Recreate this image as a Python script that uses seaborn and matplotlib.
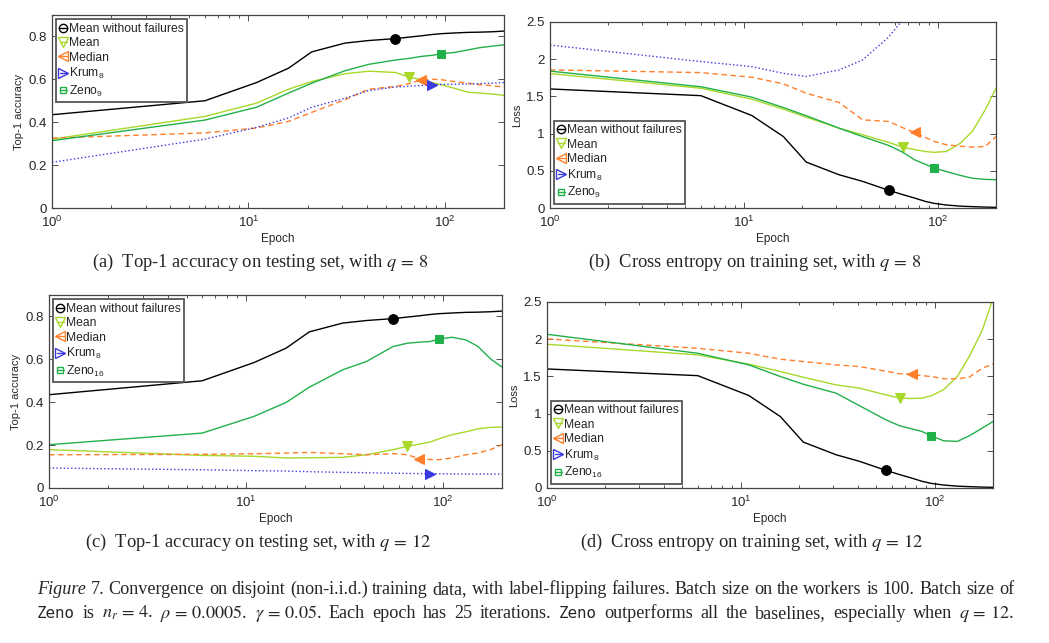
import matplotlib
matplotlib.use("Agg")
import matplotlib.pyplot as plt
from matplotlib.lines import Line2D
import seaborn as sns

# epochs where the curves were sampled (every 5 epochs, thinned out on the log axis)
epochs = [1, 6, 11, 16, 21, 31, 41, 56, 66, 76, 86, 96, 111, 131, 151, 176, 200]

# --- top-1 accuracy on testing set ---
acc_clean = [0.435, 0.50, 0.585, 0.652, 0.728, 0.769, 0.781, 0.79, 0.797, 0.803,
             0.809, 0.813, 0.816, 0.819, 0.82, 0.822, 0.825]
acc_mean_q8 = [0.321, 0.427, 0.489, 0.554, 0.59, 0.626, 0.638, 0.632, 0.61, 0.598,
               0.585, 0.575, 0.559, 0.54, 0.536, 0.531, 0.525]
acc_median_q8 = [0.326, 0.35, 0.373, 0.404, 0.446, 0.505, 0.554, 0.567, 0.58, 0.598,
                 0.6, 0.598, 0.59, 0.582, 0.575, 0.57, 0.564]
acc_krum_q8 = [0.213, 0.321, 0.376, 0.42, 0.47, 0.512, 0.548, 0.564, 0.568, 0.571,
               0.575, 0.576, 0.577, 0.578, 0.58, 0.582, 0.585]
acc_zeno_q8 = [0.314, 0.41, 0.47, 0.536, 0.582, 0.64, 0.67, 0.69, 0.698, 0.707,
               0.712, 0.719, 0.725, 0.737, 0.748, 0.755, 0.761]

acc_mean_q12 = [0.179, 0.152, 0.148, 0.14, 0.141, 0.143, 0.155, 0.179, 0.194, 0.205,
                0.214, 0.23, 0.248, 0.262, 0.276, 0.283, 0.284]
acc_median_q12 = [0.155, 0.157, 0.16, 0.163, 0.166, 0.16, 0.155, 0.16, 0.155, 0.137,
                  0.133, 0.132, 0.14, 0.155, 0.163, 0.18, 0.202]
acc_krum_q12 = [0.093, 0.085, 0.081, 0.079, 0.076, 0.073, 0.071, 0.069, 0.068, 0.067,
                0.067, 0.066, 0.066, 0.065, 0.065, 0.065, 0.065]
acc_zeno_q12 = [0.202, 0.256, 0.334, 0.399, 0.47, 0.551, 0.59, 0.66, 0.675, 0.68,
                0.683, 0.694, 0.703, 0.691, 0.66, 0.6, 0.564]

# --- cross entropy on training set ---
loss_clean = [1.60, 1.51, 1.243, 0.96, 0.617, 0.447, 0.358, 0.237, 0.18, 0.134,
              0.09, 0.062, 0.04, 0.025, 0.018, 0.012, 0.009]
loss_mean_q8 = [1.807, 1.61, 1.462, 1.328, 1.221, 1.073, 0.984, 0.881, 0.818, 0.785,
                0.76, 0.748, 0.76, 0.872, 1.03, 1.32, 1.61]
loss_median_q8 = [1.856, 1.82, 1.758, 1.668, 1.543, 1.418, 1.185, 1.163, 1.08, 1.015,
                  0.95, 0.894, 0.85, 0.83, 0.818, 0.827, 0.96]
loss_krum_q8 = [2.19, 1.968, 1.90, 1.81, 1.767, 1.856, 1.99, 2.30, 2.53, 2.9,
                3.1, 3.3, 3.5, 3.7, 3.9, 4.0, 4.1]
loss_zeno_q8 = [1.84, 1.63, 1.49, 1.35, 1.24, 1.073, 0.96, 0.84, 0.75, 0.648,
                0.59, 0.537, 0.49, 0.438, 0.4, 0.385, 0.38]

loss_mean_q12 = [1.932, 1.789, 1.664, 1.565, 1.489, 1.386, 1.342, 1.252, 1.208, 1.203,
                 1.208, 1.24, 1.32, 1.5, 1.77, 2.12, 2.55]
loss_median_q12 = [2.004, 1.878, 1.811, 1.731, 1.70, 1.655, 1.632, 1.57, 1.535, 1.53,
                   1.51, 1.498, 1.47, 1.467, 1.49, 1.61, 1.668]
loss_zeno_q12 = [2.066, 1.811, 1.655, 1.498, 1.395, 1.275, 1.105, 0.917, 0.836, 0.796,
                 0.76, 0.702, 0.635, 0.626, 0.702, 0.805, 0.894]

# epoch where each method shows its marker
mark_at = {"clean": 56, "mean": 66, "median": 76, "krum": 86, "zeno": 96}

styles = {
    "clean": dict(color="black", ls="-", marker="o", ms=7),
    "mean": dict(color="#a8d82a", ls="-", marker="v", ms=7.5),
    "median": dict(color="#ff7f2a", ls=(0, (4, 2.5)), marker="<", ms=7.5),
    "krum": dict(color="#3a3ae0", ls=":", marker=">", ms=7.5),
    "zeno": dict(color="#22b04a", ls="-", marker="s", ms=6),
}

sns.set_theme(style="ticks")
plt.rcParams["font.family"] = ["Liberation Sans", "DejaVu Sans"]
plt.rcParams["mathtext.fontset"] = "custom"
plt.rcParams["mathtext.rm"] = "Liberation Sans"
plt.rcParams["mathtext.it"] = "Liberation Sans:italic"

W, H = 1049, 643
fig = plt.figure(figsize=(W / 100, H / 100), dpi=100)


def px_axes(left, top, right, bottom):
    return fig.add_axes([left / W, 1 - bottom / H, (right - left) / W, (bottom - top) / H])


def draw_curve(ax, y, key):
    st = styles[key]
    idx = epochs.index(mark_at[key])
    sns.lineplot(x=epochs, y=y, ax=ax, color=st["color"], linestyle=st["ls"],
                 linewidth=1.0, marker=st["marker"], markersize=st["ms"],
                 markevery=[idx], markerfacecolor=st["color"],
                 markeredgecolor=st["color"], errorbar=None, legend=False)


def style_axes(ax, ylabel, ylim, yticks, yticklabels):
    ax.set_xscale("log")
    ax.set_xlim(1, 200)
    ax.set_ylim(*ylim)
    ax.set_yticks(yticks)
    ax.set_yticklabels(yticklabels)
    ax.set_xlabel("Epoch", fontsize=8.5, labelpad=2)
    ax.set_ylabel(ylabel, fontsize=8, labelpad=3)
    ax.tick_params(which="both", direction="in", top=True, right=True,
                   labelsize=9.5, width=0.6, color="#333333")
    ax.tick_params(axis="x", pad=5)
    ax.tick_params(axis="y", pad=4)
    ax.tick_params(which="major", length=4)
    ax.tick_params(which="minor", length=2)
    for sp in ax.spines.values():
        sp.set_linewidth(0.9)
        sp.set_color("#444444")


def add_legend(ax, zeno_label, loc):
    labels = ["Mean without failures", "Mean", "Median", r"Krum$_8$", zeno_label]
    handles = []
    for key in ["clean", "mean", "median", "krum", "zeno"]:
        st = styles[key]
        handles.append(Line2D([0], [0], color=st["color"], ls="-", lw=1.0,
                              marker=st["marker"], markersize=st["ms"] - 1,
                              markerfacecolor="none", markeredgecolor=st["color"],
                              markeredgewidth=1.0))
    leg = ax.legend(handles, labels, loc=loc, fontsize=8.7, handlelength=0.6,
                    handletextpad=0.15, labelspacing=0.2, borderpad=0.3,
                    borderaxespad=0.35, fancybox=False, framealpha=1)
    leg.get_frame().set_edgecolor("#555555")
    leg.get_frame().set_linewidth(1.3)


acc_ticks = [0, 0.2, 0.4, 0.6, 0.8]
acc_ticklabels = ["0", "0.2", "0.4", "0.6", "0.8"]
loss_ticks = [0, 0.5, 1, 1.5, 2, 2.5]
loss_ticklabels = ["0", "0.5", "1", "1.5", "2", "2.5"]

# (a)
ax_a = px_axes(52, 15, 504, 208)
draw_curve(ax_a, acc_clean, "clean")
draw_curve(ax_a, acc_mean_q8, "mean")
draw_curve(ax_a, acc_median_q8, "median")
draw_curve(ax_a, acc_krum_q8, "krum")
draw_curve(ax_a, acc_zeno_q8, "zeno")
style_axes(ax_a, "Top-1 accuracy", (0, 0.9), acc_ticks, acc_ticklabels)
add_legend(ax_a, r"Zeno$_9$", "upper left")

# (b)
ax_b = px_axes(550, 22, 996, 208)
draw_curve(ax_b, loss_clean, "clean")
draw_curve(ax_b, loss_mean_q8, "mean")
draw_curve(ax_b, loss_median_q8, "median")
draw_curve(ax_b, loss_krum_q8, "krum")
draw_curve(ax_b, loss_zeno_q8, "zeno")
style_axes(ax_b, "Loss", (0, 2.5), loss_ticks, loss_ticklabels)
add_legend(ax_b, r"Zeno$_9$", "lower left")

# (c)
ax_c = px_axes(49, 295, 502, 488)
draw_curve(ax_c, acc_clean, "clean")
draw_curve(ax_c, acc_mean_q12, "mean")
draw_curve(ax_c, acc_median_q12, "median")
draw_curve(ax_c, acc_krum_q12, "krum")
draw_curve(ax_c, acc_zeno_q12, "zeno")
style_axes(ax_c, "Top-1 accuracy", (0, 0.9), acc_ticks, acc_ticklabels)
add_legend(ax_c, r"Zeno$_{16}$", "upper left")

# (d) - Krum's loss is above the plotted range here
ax_d = px_axes(547, 302, 993, 488)
draw_curve(ax_d, loss_clean, "clean")
draw_curve(ax_d, loss_mean_q12, "mean")
draw_curve(ax_d, loss_median_q12, "median")
draw_curve(ax_d, loss_zeno_q12, "zeno")
style_axes(ax_d, "Loss", (0, 2.5), loss_ticks, loss_ticklabels)
add_legend(ax_d, r"Zeno$_{16}$", "lower left")

# sub-captions
serif = dict(family="Liberation Serif", math_fontfamily="stix", fontsize=13.3,
             ha="center", va="center")
fig.text(260 / W, 1 - 262 / H, r"(a)  Top-1 accuracy on testing set, with $q\,=\,8$", **serif)
fig.text(755 / W, 1 - 262 / H, r"(b)  Cross entropy on training set, with $q\,=\,8$", **serif)
fig.text(258 / W, 1 - 542 / H, r"(c)  Top-1 accuracy on testing set, with $q\,=\,12$", **serif)
fig.text(752 / W, 1 - 542 / H, r"(d)  Cross entropy on training set, with $q\,=\,12$", **serif)

# figure caption: justified lines, drawn word by word (italic / roman / typewriter)
rm = dict(family="Liberation Serif", math_fontfamily="stix")
it = dict(family="Liberation Serif", style="italic", math_fontfamily="stix")
tt = dict(family="DejaVu Sans Mono")
line1 = [("Figure", it), ("7.", rm),
         ("Convergence on disjoint (non-i.i.d.) training data, with label-flipping "
          "failures. Batch size on the workers is 100. Batch size of", rm)]
line2 = [("Zeno", tt),
         (r"is $n_r\,=\,4$. $\rho\,=\,0.0005$. $\gamma\,=\,0.05$. Each epoch has 25 iterations.", rm),
         ("Zeno", tt),
         (r"outperforms all the baselines, especially when $q\,=\,12$.", rm)]

renderer = fig.canvas.get_renderer()
X0, X1 = 37, 1014


def words_of(runs):
    out = []
    for s, kw in runs:
        for w in s.split(" "):
            out.append((w, kw))
    return out


def draw_words(words, y, fs, justify):
    texts = []
    widths = []
    for w, kw in words:
        size = fs * 0.88 if kw is tt else fs
        t = fig.text(X0 / W, y, w, fontsize=size, ha="left", va="baseline", **kw)
        texts.append(t)
        widths.append(t.get_window_extent(renderer).width)
    space = fs * 100 / 72 * 0.25
    if justify:
        space = (X1 - X0 - sum(widths)) / (len(words) - 1)
    x = X0
    for t, wd in zip(texts, widths):
        t.set_x(x / W)
        x += wd + space
    return texts, sum(widths) + space * (len(words) - 1)


w1 = words_of(line1)
w2 = words_of(line2)
texts, natural = draw_words(w1, 1 - 594 / H, 10, False)
for t in texts:
    t.remove()
fs_cap = 10 * (X1 - X0) / natural
draw_words(w1, 1 - 594 / H, fs_cap, True)
draw_words(w2, 1 - 618 / H, fs_cap, True)

fig.savefig("out.png", dpi=100)
